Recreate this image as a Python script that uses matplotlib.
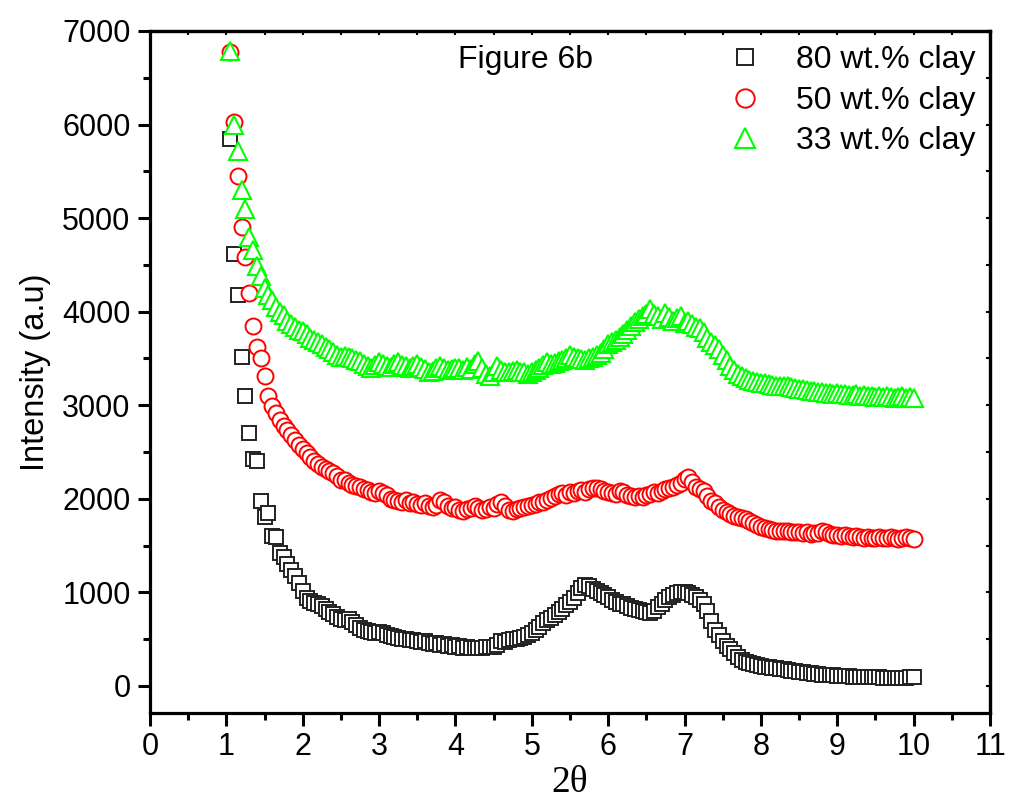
import numpy as np
import matplotlib
matplotlib.use("Agg")
import matplotlib.pyplot as plt
from matplotlib.ticker import MultipleLocator

plt.rcParams['font.family'] = ['Liberation Sans', 'DejaVu Sans']

# 2-theta positions (deg), step 0.05 from 1.05 to 10.00
two_theta = np.round(np.arange(1.05, 10.001, 0.05), 2)

# 80 wt.% clay
clay80 = [
    5850, 4620, 4180, 3520, 3100, 2700, 2420, 2400, 1980, 1800,
    1850, 1600, 1590, 1420, 1380, 1300, 1240, 1170, 1100, 1010,
    940, 910, 890, 870, 850, 820, 790, 770, 740, 720,
    700, 710, 680, 650, 620, 600, 590, 580, 570, 575,
    560, 545, 530, 525, 510, 505, 500, 490, 485, 480,
    470, 475, 460, 450, 455, 440, 445, 430, 435, 420,
    425, 410, 415, 400, 405, 410, 400, 412, 420, 418,
    440, 480, 470, 490, 500, 505, 510, 520, 540, 560,
    600, 630, 670, 700, 730, 760, 790, 820, 860, 900,
    940, 990, 1050, 1080, 1070, 1040, 1010, 990, 970, 950,
    920, 900, 880, 870, 850, 830, 820, 810, 800, 790,
    780, 800, 840, 880, 920, 950, 970, 990, 1000, 1000,
    990, 970, 950, 920, 870, 800, 690, 600, 540, 480,
    430, 390, 350, 310, 280, 260, 245, 235, 225, 215,
    205, 200, 195, 190, 180, 175, 170, 160, 155, 150,
    145, 140, 135, 130, 125, 120, 118, 115, 112, 110,
    108, 105, 102, 100, 98, 96, 95, 94, 92, 90,
    90, 88, 87, 86, 86, 85, 85, 86, 90, 100,
]

# 50 wt.% clay
clay50 = [
    6780, 6030, 5450, 4900, 4580, 4200, 3850, 3620, 3500, 3310,
    3100, 2990, 2920, 2840, 2780, 2730, 2680, 2630, 2570, 2530,
    2490, 2450, 2400, 2370, 2340, 2320, 2300, 2280, 2240, 2200,
    2200, 2170, 2150, 2140, 2130, 2100, 2090, 2070, 2060, 2080,
    2060, 2040, 2000, 1990, 1980, 1960, 1990, 1950, 1960, 1940,
    1930, 1950, 1920, 1910, 1930, 1990, 1960, 1920, 1900, 1910,
    1880, 1870, 1890, 1900, 1920, 1900, 1880, 1890, 1910, 1900,
    1940, 1960, 1920, 1880, 1870, 1890, 1900, 1910, 1920, 1930,
    1940, 1960, 1970, 1990, 2010, 2030, 2050, 2060, 2040, 2070,
    2060, 2080, 2090, 2070, 2100, 2110, 2120, 2100, 2080, 2070,
    2060, 2050, 2080, 2070, 2040, 2030, 2020, 2030, 2020, 2040,
    2050, 2070, 2060, 2080, 2100, 2120, 2130, 2150, 2170, 2210,
    2230, 2180, 2130, 2100, 2080, 2030, 1980, 1950, 1910, 1880,
    1860, 1840, 1820, 1810, 1790, 1780, 1760, 1740, 1720, 1700,
    1690, 1680, 1670, 1660, 1660, 1650, 1650, 1640, 1640, 1640,
    1630, 1640, 1620, 1630, 1630, 1650, 1640, 1620, 1610, 1610,
    1600, 1610, 1600, 1590, 1600, 1590, 1580, 1590, 1580, 1580,
    1590, 1580, 1580, 1590, 1580, 1570, 1580, 1590, 1580, 1570,
]

# 33 wt.% clay
clay33 = [
    6790, 6000, 5720, 5300, 5100, 4800, 4660, 4490, 4380, 4250,
    4180, 4120, 4050, 4000, 3960, 3900, 3870, 3840, 3800, 3790,
    3760, 3720, 3700, 3680, 3650, 3620, 3600, 3570, 3540, 3520,
    3530, 3510, 3500, 3480, 3470, 3440, 3420, 3400, 3430, 3460,
    3440, 3420, 3410, 3440, 3460, 3430, 3420, 3400, 3420, 3440,
    3410, 3390, 3350, 3370, 3400, 3420, 3400, 3380, 3390, 3400,
    3400, 3380, 3410, 3390, 3440, 3470, 3400, 3330, 3310, 3360,
    3420, 3380, 3350, 3360, 3370, 3380, 3360, 3350, 3330, 3350,
    3380, 3400, 3430, 3460, 3440, 3450, 3470, 3480, 3500, 3540,
    3520, 3500, 3490, 3480, 3500, 3520, 3540, 3560, 3600, 3650,
    3680, 3700, 3730, 3760, 3800, 3850, 3890, 3920, 3950, 3980,
    4030, 3980, 3950, 3920, 3990, 3940, 3900, 3930, 3950, 3880,
    3900, 3870, 3840, 3820, 3780, 3720, 3680, 3640, 3600, 3540,
    3480, 3420, 3380, 3330, 3310, 3290, 3270, 3260, 3250, 3240,
    3240, 3230, 3220, 3210, 3210, 3200, 3200, 3190, 3180, 3170,
    3170, 3160, 3150, 3150, 3140, 3140, 3130, 3130, 3120, 3130,
    3120, 3120, 3110, 3110, 3120, 3100, 3110, 3100, 3100, 3090,
    3100, 3090, 3100, 3090, 3080, 3090, 3100, 3080, 3090, 3080,
]

labels = ['80 wt.% clay', '50 wt.% clay', '33 wt.% clay']

fig = plt.figure(figsize=(10.1, 8.05), dpi=100)
ax = fig.add_axes([0.1485, 0.1143, 0.8317, 0.8472])

ax.plot(two_theta, clay80, 's', ms=9.5, mfc='white', mec='#222222', mew=1.4, label=labels[0])
ax.plot(two_theta, clay50, 'o', ms=11.5, mfc='white', mec='#ff0000', mew=1.4, label=labels[1])
ax.plot(two_theta, clay33, '^', ms=13, mfc='white', mec='#00ff00', mew=1.5, label=labels[2])

ax.set_xlim(0, 11)
ax.set_ylim(-290, 7000)
ax.xaxis.set_major_locator(MultipleLocator(1))
ax.xaxis.set_minor_locator(MultipleLocator(0.5))
ax.yaxis.set_major_locator(MultipleLocator(1000))
ax.yaxis.set_minor_locator(MultipleLocator(500))
ax.tick_params(which='major', direction='out', length=9, width=2.2, labelsize=22, pad=5)
ax.tick_params(which='minor', direction='out', length=5, width=2.2)
for s in ax.spines.values():
    s.set_linewidth(2.3)

# small inward ticks on top and right
top = ax.secondary_xaxis('top')
top.xaxis.set_major_locator(MultipleLocator(0.5))
top.tick_params(direction='in', length=3, width=1.5, labeltop=False)
top.spines['top'].set_linewidth(2.3)
right = ax.secondary_yaxis('right')
right.yaxis.set_major_locator(MultipleLocator(500))
right.tick_params(direction='in', length=3, width=1.5, labelright=False)
right.spines['right'].set_linewidth(2.3)

ax.set_xlabel('2θ', family=['Liberation Serif', 'DejaVu Serif'], fontsize=27, labelpad=2)
ax.set_ylabel('Intensity (a.u)', fontsize=23.5, labelpad=8)

ax.text(0.367, 0.946, 'Figure 6b', transform=ax.transAxes, fontsize=23, va='baseline', ha='left')

ax.legend(loc='upper right', bbox_to_anchor=(1.0, 1.0), frameon=False, fontsize=23,
          handlelength=1.0, handletextpad=1.1, labelspacing=0.33, borderaxespad=0.0,
          borderpad=0.45, markerscale=1.15)

fig.savefig('out.png', dpi=100)
